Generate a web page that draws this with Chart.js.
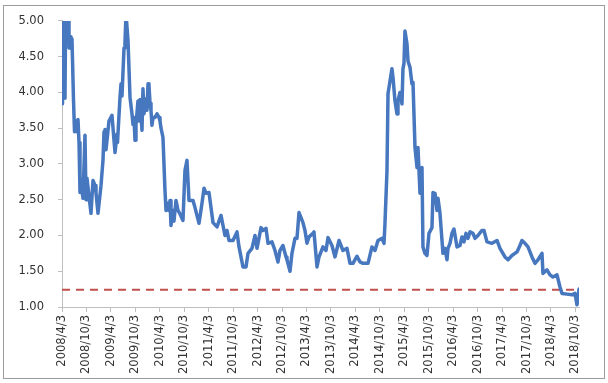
<!DOCTYPE html>
<html>
<head>
<meta charset="utf-8">
<script src="https://cdn.jsdelivr.net/npm/chart.js@4.4.1/dist/chart.umd.min.js"></script>
<style>
  html, body { margin: 0; padding: 0; background: #ffffff; }
  #wrap { width: 608px; height: 383px; position: relative; }
</style>
</head>
<body>
<div id="wrap"><canvas id="c" width="608" height="383"></canvas></div>
<script>
// x positions in decimal years (2008.25 = 2008/4/3)
const years = [
  2008.250, 2008.260, 2008.281, 2008.301, 2008.311, 2008.326, 2008.383, 2008.393, 2008.414, 2008.434,
  2008.454, 2008.485, 2008.506, 2008.536, 2008.557, 2008.577, 2008.598, 2008.618, 2008.628, 2008.679,
  2008.720, 2008.741, 2008.761, 2008.802, 2008.843, 2008.884, 2008.925, 2008.945, 2008.986, 2009.048,
  2009.088, 2009.109, 2009.129, 2009.150, 2009.211, 2009.272, 2009.334, 2009.375, 2009.385, 2009.436,
  2009.457, 2009.477, 2009.518, 2009.538, 2009.559, 2009.579, 2009.600, 2009.641, 2009.681, 2009.702,
  2009.722, 2009.743, 2009.763, 2009.804, 2009.825, 2009.845, 2009.886, 2009.906, 2009.927, 2009.968,
  2009.988, 2010.009, 2010.029, 2010.050, 2010.070, 2010.090, 2010.111, 2010.152, 2010.193, 2010.234,
  2010.254, 2010.275, 2010.315, 2010.356, 2010.377, 2010.418, 2010.438, 2010.459, 2010.479, 2010.520,
  2010.540, 2010.581, 2010.622, 2010.663, 2010.724, 2010.765, 2010.806, 2010.847, 2010.929, 2010.970,
  2011.052, 2011.113, 2011.154, 2011.195, 2011.256, 2011.338, 2011.420, 2011.502, 2011.583, 2011.624,
  2011.665, 2011.747, 2011.829, 2011.870, 2011.951, 2012.013, 2012.054, 2012.135, 2012.197, 2012.238,
  2012.320, 2012.360, 2012.422, 2012.463, 2012.544, 2012.606, 2012.667, 2012.708, 2012.769, 2012.831,
  2012.851, 2012.913, 2012.953, 2013.015, 2013.056, 2013.097, 2013.138, 2013.178, 2013.219, 2013.260,
  2013.301, 2013.383, 2013.403, 2013.465, 2013.506, 2013.587, 2013.649, 2013.690, 2013.771, 2013.833,
  2013.915, 2013.996, 2014.078, 2014.140, 2014.201, 2014.283, 2014.344, 2014.405, 2014.508, 2014.589,
  2014.651, 2014.712, 2014.794, 2014.835, 2014.855, 2014.896, 2014.917, 2014.958, 2014.998, 2015.019,
  2015.060, 2015.101, 2015.121, 2015.162, 2015.203, 2015.223, 2015.244, 2015.264, 2015.305, 2015.326,
  2015.367, 2015.407, 2015.428, 2015.469, 2015.510, 2015.530, 2015.571, 2015.612, 2015.632, 2015.673,
  2015.714, 2015.755, 2015.816, 2015.837, 2015.878, 2015.919, 2015.939, 2015.980, 2016.041, 2016.082,
  2016.123, 2016.144, 2016.185, 2016.225, 2016.266, 2016.328, 2016.389, 2016.430, 2016.471, 2016.512,
  2016.553, 2016.594, 2016.655, 2016.696, 2016.757, 2016.839, 2016.880, 2016.941, 2017.043, 2017.146,
  2017.207, 2017.309, 2017.371, 2017.452, 2017.555, 2017.616, 2017.657, 2017.718, 2017.780, 2017.861,
  2017.923, 2017.984, 2018.066, 2018.086, 2018.168, 2018.230, 2018.291, 2018.373, 2018.434, 2018.475,
  2018.577, 2018.679, 2018.741, 2018.782, 2018.823
];
const ratio = [
  3.84, 4.25, 5.20, 5.20, 3.92, 5.20, 5.20, 4.62, 4.78, 4.62,
  4.75, 3.90, 3.45, 3.60, 3.45, 3.62, 3.30, 2.60, 2.80, 2.52,
  3.40, 2.50, 2.80, 2.55, 2.31, 2.77, 2.70, 2.60, 2.31, 2.70,
  3.05, 3.45, 3.48, 3.20, 3.60, 3.68, 3.16, 3.42, 3.30, 3.93,
  4.12, 3.95, 4.62, 4.70, 5.10, 5.10, 4.72, 3.93, 3.70, 3.55,
  3.65, 3.33, 3.55, 3.88, 3.60, 3.90, 3.47, 4.05, 3.70, 3.91,
  3.75, 4.12, 4.10, 3.85, 3.75, 3.54, 3.65, 3.65, 3.70, 3.65,
  3.60, 3.50, 3.37, 2.63, 2.35, 2.45, 2.35, 2.49, 2.14, 2.35,
  2.20, 2.49, 2.35, 2.30, 2.21, 2.91, 3.05, 2.49, 2.49, 2.39,
  2.17, 2.45, 2.66, 2.59, 2.60, 2.18, 2.12, 2.28, 2.00, 2.07,
  1.93, 1.93, 2.05, 1.84, 1.56, 1.56, 1.75, 1.82, 2.00, 1.82,
  2.11, 2.07, 2.10, 1.89, 1.91, 1.79, 1.63, 1.79, 1.86, 1.70,
  1.66, 1.50, 1.75, 1.96, 1.96, 2.32, 2.25, 2.18, 2.07, 1.89,
  1.98, 2.03, 2.05, 1.56, 1.70, 1.84, 1.79, 1.97, 1.86, 1.70,
  1.93, 1.79, 1.82, 1.61, 1.61, 1.71, 1.63, 1.61, 1.61, 1.84,
  1.79, 1.93, 1.96, 1.89, 2.17, 2.90, 3.98, 4.16, 4.33, 4.21,
  3.88, 3.70, 3.88, 4.00, 3.84, 4.33, 4.41, 4.86, 4.68, 4.44,
  4.35, 4.12, 4.14, 3.23, 2.95, 3.23, 2.59, 2.95, 1.84, 1.75,
  1.72, 2.03, 2.11, 2.60, 2.59, 2.35, 2.52, 2.31, 1.75, 1.82,
  1.66, 1.82, 1.89, 2.03, 2.09, 1.84, 1.86, 1.98, 1.91, 2.03,
  1.96, 2.05, 2.03, 1.96, 2.00, 2.07, 2.07, 1.91, 1.89, 1.93,
  1.82, 1.70, 1.66, 1.72, 1.77, 1.86, 1.93, 1.89, 1.84, 1.70,
  1.61, 1.66, 1.75, 1.47, 1.52, 1.45, 1.42, 1.45, 1.28, 1.19,
  1.18, 1.17, 1.19, 1.03, 1.25
];
const thresholdValue = 1.24;
const tickYears = [2008.25, 2008.75, 2009.25, 2009.75, 2010.25, 2010.75, 2011.25, 2011.75,
  2012.25, 2012.75, 2013.25, 2013.75, 2014.25, 2014.75, 2015.25, 2015.75, 2016.25, 2016.75,
  2017.25, 2017.75, 2018.25, 2018.75];
const tickLabels = ["2008/4/3", "2008/10/3", "2009/4/3", "2009/10/3", "2010/4/3", "2010/10/3",
  "2011/4/3", "2011/10/3", "2012/4/3", "2012/10/3", "2013/4/3", "2013/10/3", "2014/4/3",
  "2014/10/3", "2015/4/3", "2015/10/3", "2016/4/3", "2016/10/3", "2017/4/3", "2017/10/3",
  "2018/4/3", "2018/10/3"];
const yTicks = [1.0, 1.5, 2.0, 2.5, 3.0, 3.5, 4.0, 4.5, 5.0];

const lineData = years.map((x, i) => ({ x: x, y: ratio[i] }));
const dashData = [{ x: years[0], y: thresholdValue }, { x: 2018.79, y: thresholdValue }];

const framePlugin = {
  id: 'frame',
  beforeDraw(chart) {
    const ctx = chart.ctx;
    ctx.save();
    ctx.fillStyle = '#ffffff';
    ctx.fillRect(0, 0, chart.width, chart.height);
    ctx.strokeStyle = '#9a9a9a';
    ctx.lineWidth = 1;
    ctx.strokeRect(3.5, 5.5, 601, 373);
    ctx.restore();
  }
};

const fontSpec = { family: 'DejaVu Sans', size: 11.5 };

new Chart(document.getElementById('c'), {
  type: 'line',
  data: {
    datasets: [
      {
        data: lineData,
        borderColor: '#4677bf',
        borderWidth: 3.5,
        borderJoinStyle: 'round',
        borderCapStyle: 'round',
        pointRadius: 0,
        tension: 0,
        clip: 0,
        order: 1
      },
      {
        data: dashData,
        borderColor: '#c0504d',
        borderWidth: 2,
        borderDash: [8, 6],
        pointRadius: 0,
        clip: 0,
        order: 2
      }
    ]
  },
  options: {
    responsive: false,
    animation: false,
    devicePixelRatio: 1,
    layout: { padding: { left: 0, right: 29, top: 20, bottom: 0 } },
    plugins: { legend: { display: false }, tooltip: { enabled: false } },
    scales: {
      x: {
        type: 'linear',
        min: years[0],
        max: years[years.length - 1],
        afterBuildTicks: (s) => { s.ticks = tickYears.map(v => ({ value: v })); },
        afterFit: (s) => { s.height = 76; },
        ticks: {
          autoSkip: false,
          maxRotation: 90,
          minRotation: 90,
          padding: 3,
          color: '#333333',
          font: fontSpec,
          callback: (v) => {
            const i = tickYears.findIndex(t => Math.abs(t - v) < 1e-6);
            return i >= 0 ? tickLabels[i] : '';
          }
        },
        grid: { display: true, drawOnChartArea: false, drawTicks: true, tickLength: 5, color: '#bfbfbf' },
        border: { display: true, color: '#bfbfbf', width: 1 }
      },
      y: {
        min: yTicks[0],
        max: yTicks[yTicks.length - 1],
        afterBuildTicks: (s) => { s.ticks = yTicks.map(v => ({ value: v })); },
        afterFit: (s) => { s.width = 62; },
        ticks: {
          padding: 14,
          color: '#333333',
          font: fontSpec,
          callback: (v) => Number(v).toFixed(2)
        },
        grid: { display: true, drawOnChartArea: false, drawTicks: true, tickLength: 4, color: '#bfbfbf' },
        border: { display: true, color: '#bfbfbf', width: 1 }
      }
    }
  },
  plugins: [framePlugin]
});
</script>
</body>
</html>
